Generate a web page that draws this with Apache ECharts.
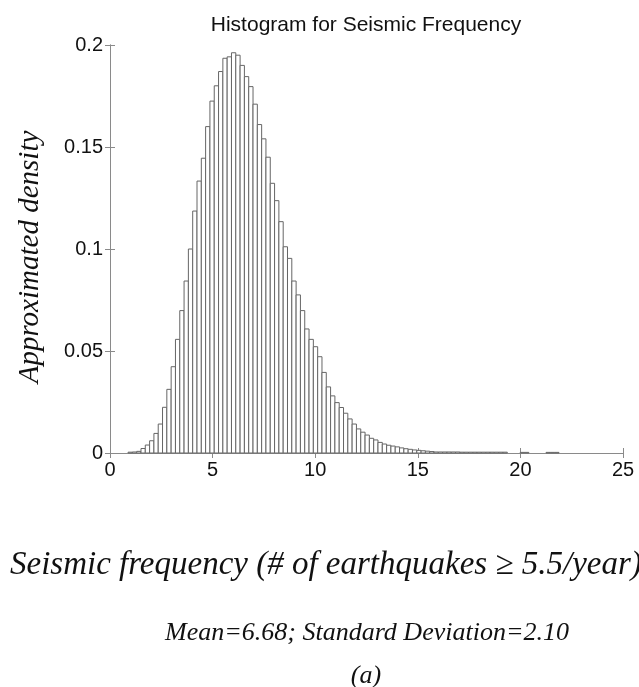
<!DOCTYPE html>
<html>
<head>
<meta charset="utf-8">
<script src="https://cdn.jsdelivr.net/npm/echarts@6/dist/echarts.min.js"></script>
<style>html,body{margin:0;padding:0;background:#fff}#c{width:639px;height:687px}</style>
</head>
<body>
<div id="c"></div>
<script>
// Histogram: 100 bins of equal width starting at binStart
const binStart = 0.88;
const binWidth = 0.21;
const densities = [
  0.0004, 0.0005, 0.0008, 0.0022, 0.0039, 0.0060, 0.0096, 0.0142, 0.0224, 0.0312,
  0.0423, 0.0557, 0.0698, 0.0843, 0.1000, 0.1186, 0.1333, 0.1445, 0.1600, 0.1725,
  0.1800, 0.1870, 0.1935, 0.1942, 0.1962, 0.1950, 0.1900, 0.1845, 0.1796, 0.1710,
  0.1610, 0.1540, 0.1450, 0.1322, 0.1237, 0.1134, 0.1011, 0.0954, 0.0843, 0.0775,
  0.0698, 0.0608, 0.0557, 0.0521, 0.0472, 0.0395, 0.0324, 0.0280, 0.0247, 0.0223,
  0.0195, 0.0167, 0.0142, 0.0118, 0.0102, 0.0088, 0.0072, 0.0064, 0.0052, 0.0044,
  0.0038, 0.0034, 0.0030, 0.0025, 0.0021, 0.0018, 0.0015, 0.0013, 0.0011, 0.0009,
  0.0007, 0.0005, 0.0005, 0.0005, 0.0005, 0.0005, 0.0005, 0.0004, 0.0004, 0.0004,
  0.0004, 0.0004, 0.0004, 0.0004, 0.0004, 0.0004, 0.0004, 0.0004, 0, 0,
  0, 0.0003, 0.0003, 0, 0, 0, 0, 0.0003, 0.0003, 0.0003
];
const xTicks = [0, 5, 10, 15, 20, 25];
const yTicks = [0, 0.05, 0.1, 0.15, 0.2];
const titleText = 'Histogram for Seismic Frequency';
const yName = 'Approximated density';
const xName = 'Seismic frequency (# of earthquakes \u2265 5.5/year)';
const statsText = 'Mean=6.68; Standard Deviation=2.10';
const panelText = '(a)';

const data = densities.map((d, i) => [binStart + i * binWidth, binStart + (i + 1) * binWidth, d]);

const chart = echarts.init(document.getElementById('c'));
const axisColor = '#8a8a8a';
const sans = 'Liberation Sans';
const serif = 'Liberation Serif';

chart.setOption({
  animation: false,
  backgroundColor: '#fff',
  title: {
    text: titleText, left: 361, top: 10, textAlign: 'center',
    textStyle: { fontFamily: sans, fontSize: 21, fontWeight: 'normal', color: '#111' }
  },
  grid: { left: 110, right: 16, top: 45, bottom: 234 },
  xAxis: [{
    type: 'value', min: xTicks[0], max: xTicks[xTicks.length - 1], interval: 5,
    axisLine: { lineStyle: { color: axisColor, width: 1 } },
    axisTick: { inside: true, length: 5, lineStyle: { color: axisColor } },
    axisLabel: { fontFamily: sans, fontSize: 20, color: '#111', margin: 7 },
    splitLine: { show: false }
  }, {
    type: 'value', position: 'top', min: xTicks[0], max: xTicks[xTicks.length - 1], interval: 5,
    axisLine: { show: true, lineStyle: { color: axisColor, width: 1 } },
    axisTick: { inside: true, length: 5, lineStyle: { color: axisColor } },
    axisLabel: { show: false }, splitLine: { show: false }
  }],
  yAxis: [{
    type: 'value', min: yTicks[0], max: yTicks[yTicks.length - 1], interval: 0.05,
    axisLine: { show: true, lineStyle: { color: axisColor, width: 1 } },
    axisTick: { show: true, inside: true, length: 5, lineStyle: { color: axisColor } },
    axisLabel: { fontFamily: sans, fontSize: 20, color: '#111', margin: 7 },
    splitLine: { show: false }
  }, {
    type: 'value', position: 'right', min: yTicks[0], max: yTicks[yTicks.length - 1], interval: 0.05,
    axisLine: { show: true, lineStyle: { color: axisColor, width: 1 } },
    axisTick: { show: true, inside: true, length: 5, lineStyle: { color: axisColor } },
    axisLabel: { show: false }, splitLine: { show: false }
  }],
  series: [{
    type: 'custom',
    xAxisIndex: 0, yAxisIndex: 0,
    data: data,
    encode: { x: [0, 1], y: 2 },
    renderItem: function (params, api) {
      const x0 = api.value(0), x1 = api.value(1), h = api.value(2);
      if (!h) return null;
      const p0 = api.coord([x0, h]);
      const p1 = api.coord([x1, 0]);
      return {
        type: 'rect',
        shape: { x: p0[0], y: p0[1], width: p1[0] - p0[0], height: p1[1] - p0[1] },
        style: { fill: '#fff', stroke: '#666', lineWidth: 1 }
      };
    }
  }],
  graphic: [
    { type: 'text', x: 30, y: 257, rotation: Math.PI / 2,
      style: { text: yName, fontFamily: serif, fontStyle: 'italic', fontSize: 29, fill: '#111',
        textAlign: 'center', textVerticalAlign: 'middle' } },
    { type: 'text', x: 10, y: 565,
      style: { text: xName, fontFamily: serif, fontStyle: 'italic', fontSize: 33, fill: '#111',
        textAlign: 'left', textVerticalAlign: 'middle' } },
    { type: 'text', x: 367, y: 633,
      style: { text: statsText, fontFamily: serif, fontStyle: 'italic', fontSize: 26, fill: '#111',
        textAlign: 'center', textVerticalAlign: 'middle' } },
    { type: 'text', x: 366, y: 676,
      style: { text: panelText, fontFamily: serif, fontStyle: 'italic', fontSize: 26, fill: '#111',
        textAlign: 'center', textVerticalAlign: 'middle' } }
  ]
});
</script>
</body>
</html>
